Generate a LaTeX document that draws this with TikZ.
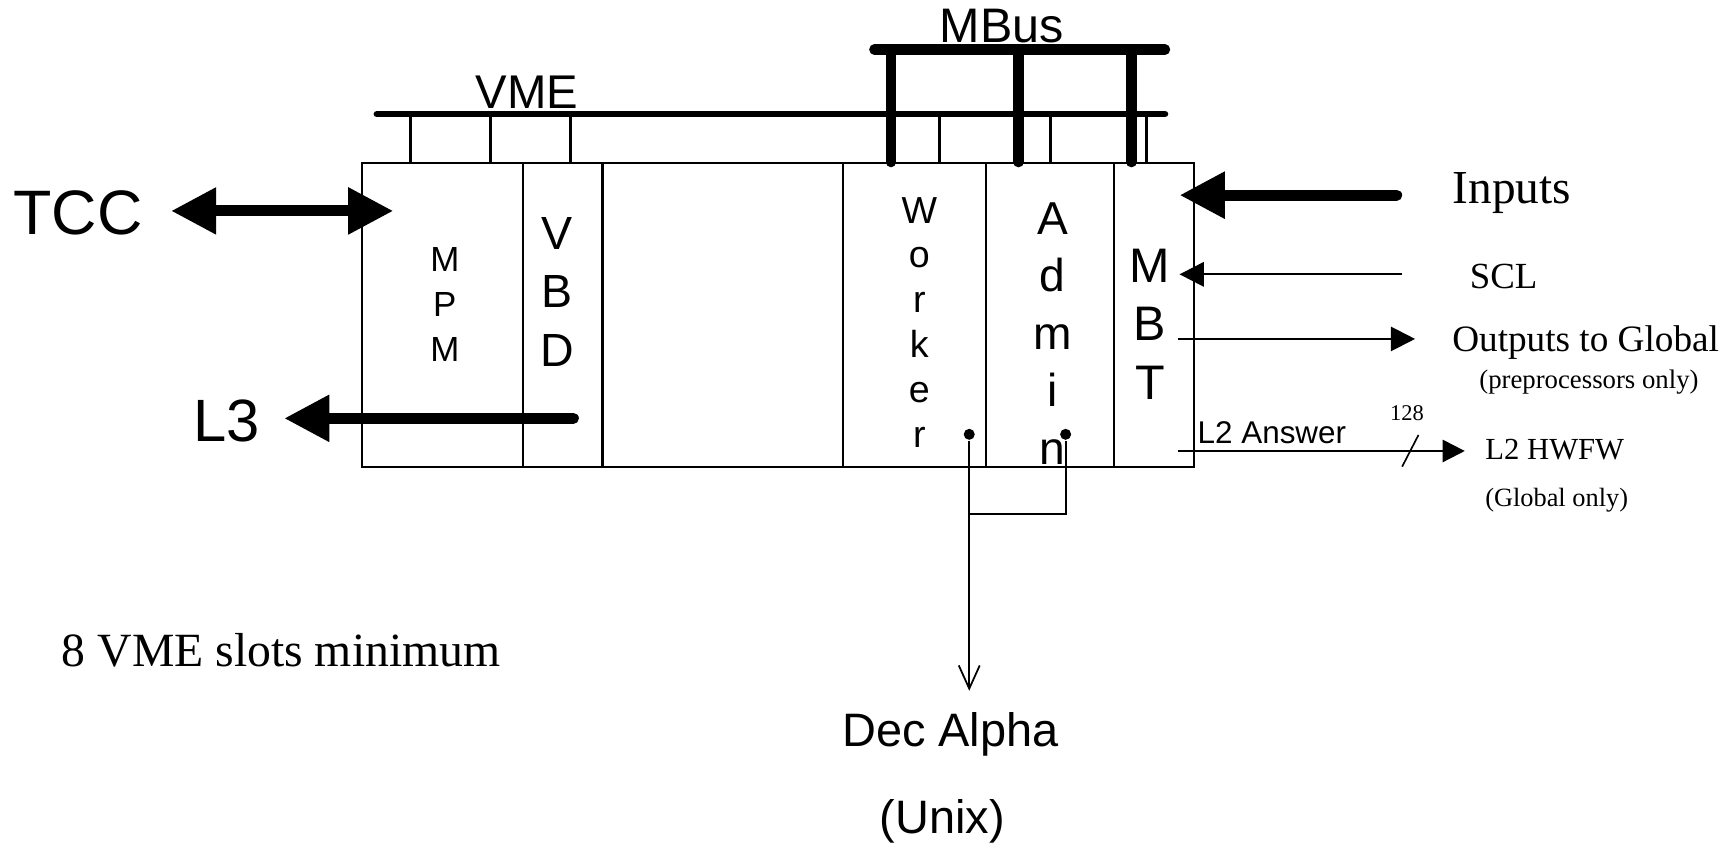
\documentclass[tikz,border=0pt]{standalone}
\usepackage{fontspec}
\setmainfont{Liberation Serif}
\setsansfont{Liberation Sans}
\usetikzlibrary{arrows.meta,positioning}

\begin{document}
\begin{tikzpicture}[
  x=0.01cm, y=-0.01cm,
  slot/.style={draw, line width=0.018cm, minimum height=2.75cm, inner sep=0pt, outer sep=0pt},
  letters/.style={align=center, inner sep=0pt},
  lab/.style={inner sep=0pt, anchor=base},
  stub/.style={line width=0.025cm},
  busline/.style={line width=0.06cm, line cap=round},
  mbusline/.style={line width=0.095cm, line cap=round},
  fatline/.style={line width=0.1cm, line cap=round},
  bigtip/.style={-{Triangle[length=0.41cm, width=0.40cm]}},
  thinarrow/.style={line width=0.02cm, -{Triangle[length=0.22cm, width=0.22cm]}},
  wire/.style={line width=0.016cm},
  dot/.style={circle, fill, inner sep=0pt, minimum size=0.1cm}
]
\useasboundingbox (0,0) rectangle (1568,765);

% crate slots
\node[slot, minimum width=1.46cm, anchor=north west] (mpm) at (328,148) {};
\node[slot, minimum width=0.72cm, right=0pt of mpm] (vbd) {};
\node[slot, minimum width=2.18cm, right=0pt of vbd] (spare) {};
\node[slot, minimum width=1.30cm, right=0pt of spare] (worker) {};
\node[slot, minimum width=1.16cm, right=0pt of worker] (admin) {};
\node[slot, minimum width=0.72cm, right=0pt of admin] (mbt) {};
\draw[line width=0.03cm] (vbd.north east) -- (vbd.south east);

\node[letters, font={\sffamily\fontsize{9}{11.6}\selectfont}] (mpmtxt) at (403.4,275.9) {M\\P\\M};
\node[letters, font={\sffamily\fontsize{12}{15.05}\selectfont}] (vbdtxt) at (505.6,264.5) {V\\B\\D};
\node[letters, font={\sffamily\fontsize{9.7}{11.6}\selectfont}] (workertxt) at (833.7,292.5) {W\\o\\r\\k\\e\\r};
\node[letters, font={\sffamily\fontsize{11.9}{14.85}\selectfont}] (admintxt) at (954.6,302.4) {A\\d\\m\\i\\n};
\node[letters, font={\sffamily\fontsize{12.5}{15.04}\selectfont}] (mbttxt) at (1042.9,294) {M\\B\\T};

% buses
\node[lab, font={\sffamily\fontsize{12.2}{14}\selectfont}] (vmelab) at (478,98) {VME};
\node[lab, font={\sffamily\fontsize{12.5}{14}\selectfont}] (mbuslab) at (908.5,39) {MBus};
\coordinate (vmeL) at (341.8,103.5);
\coordinate (vmeR) at (1056.5,103.5);
\coordinate (mbusL) at (793,45);
\coordinate (mbusR) at (1056.5,45);
\draw[busline] (vmeL) -- (vmeR);
\draw[stub] (372.3,103.5) -- (372.3,148);
\draw[stub] (444.7,103.5) -- (444.7,148);
\draw[stub] (517.5,103.5) -- (517.5,148);
\draw[stub] (851.7,103.5) -- (851.7,148);
\draw[stub] (953,103.5) -- (953,148);
\draw[stub] (1040,103.5) -- (1040,148);
\draw[mbusline] (mbusL) -- (mbusR);
\draw[mbusline] (808,45) -- (808,147);
\draw[mbusline] (923.6,45) -- (923.6,147);
\draw[mbusline] (1026,45) -- (1026,147);

% labels
\node[lab, font={\sffamily\fontsize{16.2}{19}\selectfont}] (tcc) at (70.8,213.1) {TCC};
\node[lab, font={\sffamily\fontsize{15.4}{18}\selectfont}] (l3) at (205.3,400.6) {L3};
\node[lab, font={\fontsize{12.2}{14}\selectfont}] (inputs) at (1371,184.4) {Inputs};
\node[lab, font={\fontsize{9.5}{11}\selectfont}] (scl) at (1363.7,261.5) {SCL};
\node[lab, font={\fontsize{9.6}{11}\selectfont}] (outputs) at (1438,318.9) {Outputs to Global};
\node[lab, font={\fontsize{6.9}{8}\selectfont}] (preonly) at (1441,352) {(preprocessors only)};
\node[lab, font={\fontsize{5.8}{7}\selectfont}] (buswidth) at (1276,381) {128};
\node[lab, font={\sffamily\fontsize{8.1}{10}\selectfont}] (l2ans) at (1153.5,402) {L2 Answer};
\node[lab, font={\fontsize{7.9}{9}\selectfont}] (hwfw) at (1410,416.5) {L2 HWFW};
\node[lab, font={\fontsize{6.8}{8}\selectfont}] (globonly) at (1411.7,459.5) {(Global only)};
\node[lab, font={\fontsize{12.3}{14}\selectfont}] (slots) at (255,604.6) {8 VME slots minimum};
\node[lab, font={\sffamily\fontsize{12.1}{14}\selectfont}] (dec) at (862,677) {Dec Alpha};
\node[lab, font={\sffamily\fontsize{12.1}{14}\selectfont}] (unix) at (854.7,755.7) {(Unix)};

% links
\coordinate (mpmin) at (356.8,191.3);
\coordinate (l3src) at (520,379.4);
\coordinate (mbtin) at (1069.7,177);
\coordinate (sclin) at (1069.7,248.8);
\coordinate (mbtout) at (1068,307.4);
\coordinate (l2out) at (1068,409);
\draw[fatline, {Triangle[length=0.41cm, width=0.40cm]}-{Triangle[length=0.41cm, width=0.40cm]}, shorten <=0.25cm] (mpmin -| tcc.east) -- (mpmin);
\draw[fatline, bigtip, shorten >=0.215cm] (l3src) -- (l3src -| l3.east);
\draw[fatline, bigtip, shorten <=0.5cm] (mbtin -| inputs.west) -- (mbtin);
\draw[thinarrow, shorten <=0.605cm] (sclin -| scl.west) -- (sclin);
\draw[thinarrow, shorten >=0.33cm] (mbtout) -- (mbtout -| outputs.west);
\draw[line width=0.02cm, -{Triangle[length=0.2cm, width=0.2cm]}, shorten >=0.18cm] (l2out) -- (l2out -| hwfw.west);
\draw[line width=0.015cm] (1271.6,423.2) -- (1286.4,394.5);

\node[dot] (wdot) at (879,393.9) {};
\node[dot] (adot) at (966.4,393.9) {};
\coordinate (join) at (879,466.2);
\draw[wire, -{Straight Barb[length=0.21cm, width=0.19cm]}, shorten >=0.19cm] (wdot) -- (wdot |- dec.north);
\draw[wire] (adot) |- (join);
\end{tikzpicture}
\end{document}
